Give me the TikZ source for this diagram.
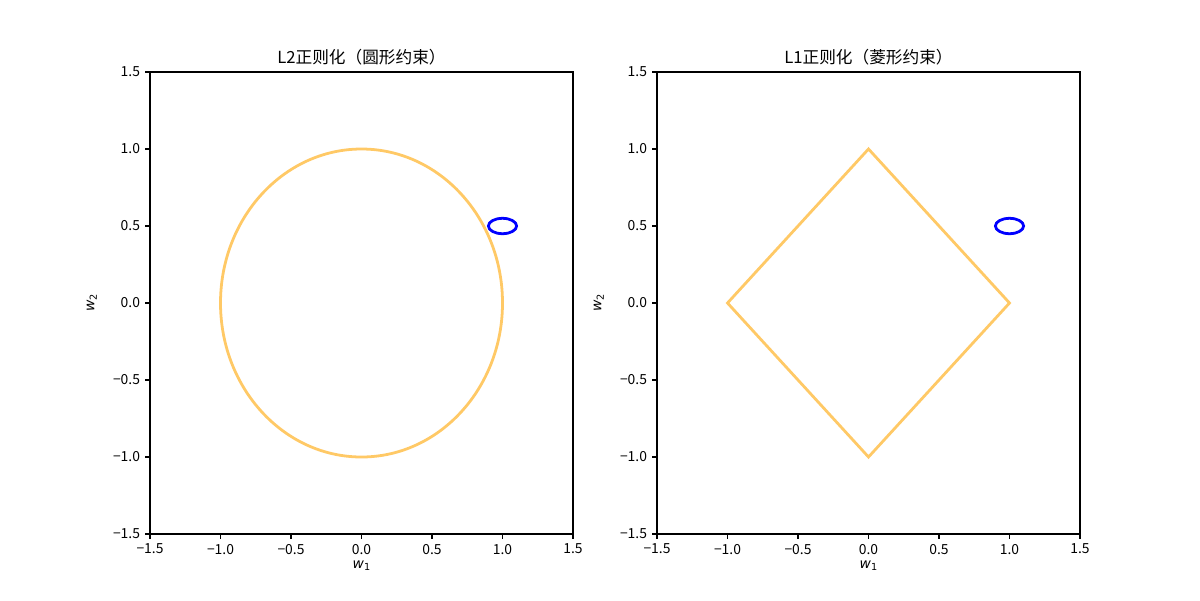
\documentclass[tikz,border=0pt]{standalone}
\usepackage{fontspec}
\setmainfont{Noto Sans CJK SC}
\newfontfamily\dvs{DejaVu Sans}
\definecolor{lineor}{HTML}{FFC966}
\tikzset{
  curve/.style={draw=lineor, line width=2pt, line join=miter},
  blueell/.style={draw=blue, line width=2pt},
  spine/.style={draw=black, line width=0.8pt},
  tick/.style={draw=black, line width=0.8pt},
  ticklab/.style={font=\fontsize{10}{12}\selectfont, inner sep=0pt},
  ttl/.style={font=\fontsize{12}{14}\selectfont, inner sep=0pt},
}
\newcommand{\wlab}[1]{{\dvs\fontsize{10}{12}\selectfont\itshape w\raisebox{-0.35ex}{\fontsize{7}{8}\selectfont\upshape #1}}}
\newcommand{\myaxes}[3]{%
  \begin{scope}[shift={(#1,-218.16pt)}, x=101.52pt, y=110.88pt]
    #3
    \draw[spine] (-1.5,-1.5) rectangle (1.5,1.5);
    \foreach \v/\l in {-1.5/{−1.5},-1.0/{−1.0},-0.5/{−0.5},0.0/{0.0},0.5/{0.5},1.0/{1.0},1.5/{1.5}}{
      \draw[tick] (\v,-1.5) -- ++(0,-3.5pt);
      \node[ticklab, anchor=north] at ([yshift=-7pt]\v,-1.5) {\l};
      \draw[tick] (-1.5,\v) -- ++(-3.5pt,0);
      \node[ticklab, anchor=east] at ([xshift=-7pt]-1.5,\v) {\l};
    }
    \node[ttl, anchor=base] at ([yshift=6pt]0,1.5) {#2};
    \node[inner sep=0pt, anchor=north] at ([yshift=-19pt]0,-1.5) {\wlab{1}};
    \node[inner sep=0pt, anchor=south, rotate=90] at ([xshift=-38pt]-1.5,0) {\wlab{2}};
  \end{scope}}
\begin{document}
\begin{tikzpicture}[x=0.72pt, y=-0.72pt]
\path[use as bounding box, fill=white] (0,0) rectangle (1200,600);
\myaxes{260.28pt}{L2正则化（圆形约束）}{%
  \draw[curve] (0,0) ellipse [x radius=1, y radius=1];
  \draw[blueell] (1,0.5) ellipse [x radius=0.1, y radius=0.05];
}
\myaxes{625.32pt}{L1正则化（菱形约束）}{%
  \draw[curve] (1,0) -- (0,1) -- (-1,0) -- (0,-1) -- cycle;
  \draw[blueell] (1,0.5) ellipse [x radius=0.1, y radius=0.05];
}
\end{tikzpicture}
\end{document}
